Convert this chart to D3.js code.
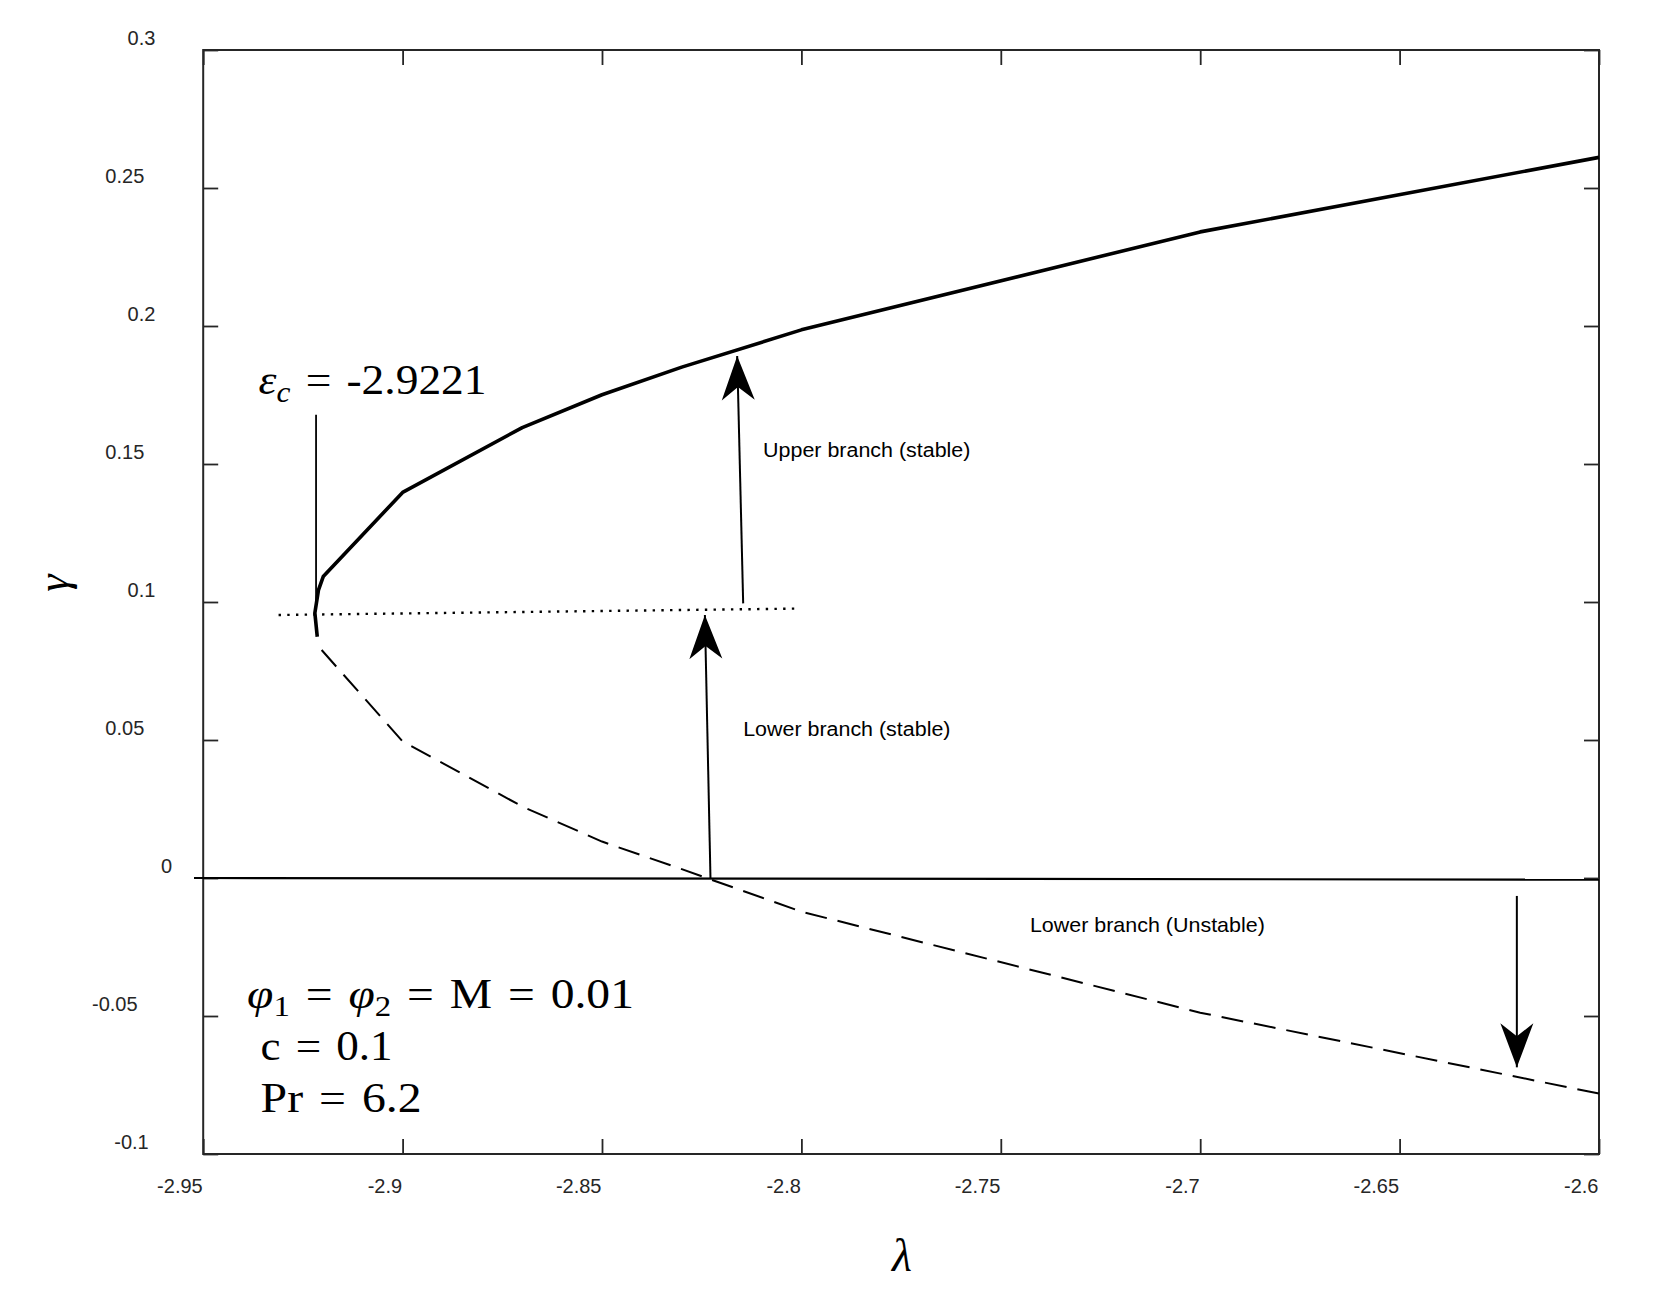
<!DOCTYPE html>
<html><head><meta charset="utf-8">
<script src="https://cdn.jsdelivr.net/npm/d3@7"></script>
<style>body{margin:0;background:#fff}</style>
</head><body><svg id="chart" width="1668" height="1308"></svg>
<script>
// ---- data ----
const xTicks = [-2.95,-2.9,-2.85,-2.8,-2.75,-2.7,-2.65,-2.6];
const xTickLabels = ["-2.95","-2.9","-2.85","-2.8","-2.75","-2.7","-2.65","-2.6"];
const yTicks = [0.3,0.25,0.2,0.15,0.1,0.05,0,-0.05,-0.1];
const yTickLabels = ["0.3","0.25","0.2","0.15","0.1","0.05","0","-0.05","-0.1"];

const upperLambda = [-2.9214,-2.9220,-2.9211,-2.9199,-2.9,-2.87,-2.85,-2.83,-2.8,-2.7,-2.6];
const upperGamma  = [0.0874,0.0960,0.1043,0.1092,0.1397,0.1632,0.1751,0.1851,0.1986,0.2341,0.2611];
const lowerLambda = [-2.9203,-2.9,-2.87,-2.85,-2.83,-2.8,-2.7,-2.6];
const lowerGamma  = [0.0826,0.0495,0.0259,0.0132,0.0032,-0.0122,-0.0488,-0.0781];
const zeroLambda = [-2.9523,-2.6];
const zeroGamma  = [0,-0.0006];
const dottedLambda = [-2.9311,-2.8014];
const dottedGamma  = [0.0953,0.0976];
const critLambda = [-2.9217,-2.9217];
const critGamma  = [0.1678,0.0971];

const arrowFromLambda = [-2.8146,-2.8228,-2.6206];
const arrowFromGamma  = [0.0995,0.0,-0.0065];
const arrowToLambda   = [-2.8161,-2.8242,-2.6206];
const arrowToGamma    = [0.1891,0.0953,-0.0686];

const annotText   = ["Upper branch (stable)","Lower branch (stable)","Lower branch (Unstable)"];
const annotLambda = [-2.8096,-2.8146,-2.7427];
const annotGamma  = [0.1524,0.0514,-0.0195];

// ---- layout ----
const svg = d3.select("#chart");
const x = d3.scaleLinear().domain([-2.95,-2.6]).range([203.2,1599]);
const y = d3.scaleLinear().domain([-0.1,0.3]).range([1154,50]);
const axisColor = "#262626";
const sans = "'Liberation Sans', Arial, Helvetica, sans-serif";
const serif = "'Liberation Serif', 'Times New Roman', serif";

function fitWidth(sel, targetW){
  const bb = sel.node().getBBox();
  const s = targetW / bb.width;
  sel.attr("transform", `translate(${bb.x},0) scale(${s},1) translate(${-bb.x},0)`);
}

// frame
svg.append("rect").attr("x",x(-2.95)).attr("y",y(0.3))
  .attr("width",x(-2.6)-x(-2.95)).attr("height",y(-0.1)-y(0.3))
  .attr("fill","none").attr("stroke",axisColor).attr("stroke-width",2);

function styleAxis(g){
  g.select(".domain").remove();
  g.selectAll(".tick line").attr("stroke",axisColor).attr("stroke-width",1.8);
}
// bottom
const gB = svg.append("g").attr("transform",`translate(0,${y(-0.1)})`)
  .call(d3.axisBottom(x).tickValues(xTicks).tickFormat((d,i)=>xTickLabels[i]).tickSizeInner(-15).tickSizeOuter(0));
styleAxis(gB);
gB.selectAll(".tick text").attr("y",39).attr("dy",0).attr("x",-1)
  .attr("text-anchor","end").attr("font-family",sans).attr("font-size",20).attr("fill",axisColor);
// top
const gT = svg.append("g").attr("transform",`translate(0,${y(0.3)})`)
  .call(d3.axisTop(x).tickValues(xTicks).tickFormat("").tickSizeInner(-15).tickSizeOuter(0));
styleAxis(gT);
// left
const gL = svg.append("g").attr("transform",`translate(${x(-2.95)},0)`)
  .call(d3.axisLeft(y).tickValues(yTicks).tickFormat((d,i)=>yTickLabels[i]).tickSizeInner(-15).tickSizeOuter(0));
styleAxis(gL);
gL.selectAll(".tick text").attr("dy",0).attr("y",-6)
  .attr("text-anchor","end").attr("font-family",sans).attr("font-size",20).attr("fill",axisColor)
  .each(function(){ const w=this.getComputedTextLength(); d3.select(this).attr("x",-20-w); });
// right
const gR = svg.append("g").attr("transform",`translate(${x(-2.6)},0)`)
  .call(d3.axisRight(y).tickValues(yTicks).tickFormat("").tickSizeInner(-15).tickSizeOuter(0));
styleAxis(gR);

// axis titles
svg.append("text").attr("x",902).attr("y",1271).attr("text-anchor","middle")
  .attr("font-family",serif).attr("font-style","italic").attr("font-size",46).text("λ");
svg.append("text").attr("transform","translate(68,583) rotate(-90)").attr("text-anchor","middle")
  .attr("font-family",serif).attr("font-style","italic").attr("font-size",44).text("γ");

const line = d3.line().x(d=>x(d[0])).y(d=>y(d[1]));
const zip = (a,b)=>a.map((v,i)=>[v,b[i]]);

// zero line
svg.append("path").attr("d",line(zip(zeroLambda,zeroGamma))).attr("fill","none")
  .attr("stroke","#000").attr("stroke-width",2.2);
// dotted
svg.append("path").attr("d",line(zip(dottedLambda,dottedGamma))).attr("fill","none")
  .attr("stroke","#000").attr("stroke-width",2.4).attr("stroke-dasharray","2.4,6.3");
// critical marker line
svg.append("path").attr("d",line(zip(critLambda,critGamma))).attr("fill","none")
  .attr("stroke","#000").attr("stroke-width",1.8);
// upper branch
svg.append("path").attr("d",line(zip(upperLambda,upperGamma))).attr("fill","none")
  .attr("stroke","#000").attr("stroke-width",3.6).attr("stroke-linejoin","round");
// lower branch dashed
svg.append("path").attr("d",line(zip(lowerLambda,lowerGamma))).attr("fill","none")
  .attr("stroke","#000").attr("stroke-width",2).attr("stroke-dasharray","22,11");

// arrows
arrowFromLambda.forEach((_,i)=>{
  const x1=x(arrowFromLambda[i]), y1=y(arrowFromGamma[i]);
  const x2=x(arrowToLambda[i]), y2=y(arrowToGamma[i]);
  svg.append("line").attr("x1",x1).attr("y1",y1).attr("x2",x2).attr("y2",y2)
    .attr("stroke","#000").attr("stroke-width",2);
  const ang = Math.atan2(y2-y1,x2-x1)*180/Math.PI;
  svg.append("path").attr("d","M0,0 L-44,-16.5 L-31,0 L-44,16.5 Z")
    .attr("transform",`translate(${x2},${y2}) rotate(${ang})`).attr("fill","#000");
});

// annotations
const annotW = [207.5,207.5,235];
annotText.forEach((t,i)=>{
  const tx = svg.append("text").attr("x",x(annotLambda[i])).attr("y",y(annotGamma[i]))
    .attr("font-family",sans).attr("font-size",20).attr("fill","#000").text(t);
  fitWidth(tx, annotW[i]);
});

// math labels: parts of type it (italic), sub (subscript), eq (equals sign with padding)
function mathText(lam, gam, parts, targetW){
  const t = svg.append("text").attr("x",x(lam)).attr("y",y(gam))
    .attr("font-family",serif).attr("font-size",42).attr("fill","#000");
  let lifted = 0, padNext = 0;
  parts.forEach(p=>{
    const s = t.append("tspan");
    let dy = 0;
    if(p.sub){ s.attr("font-size",29); dy = 8 - lifted; lifted = 8; }
    else if(lifted){ dy = -lifted; lifted = 0; }
    if(dy) s.attr("dy",dy);
    if(p.it) s.attr("font-style","italic");
    if(p.eq){ s.text("=").attr("dx",14); padNext = 14; }
    else { s.text(p.t); if(padNext){ s.attr("dx",padNext); padNext = 0; } }
  });
  fitWidth(t, targetW);
}
mathText(-2.9361, 0.1754, [{t:"ε",it:1},{t:"c",it:1,sub:1},{eq:1},{t:"-2.9221"}], 228);
mathText(-2.9390, -0.0471, [{t:"φ",it:1},{t:"1",sub:1},{eq:1},{t:"φ",it:1},{t:"2",sub:1},{eq:1},{t:"M"},{eq:1},{t:"0.01"}], 387);
mathText(-2.9356, -0.0659, [{t:"c"},{eq:1},{t:"0.1"}], 132);
mathText(-2.9356, -0.0848, [{t:"Pr"},{eq:1},{t:"6.2"}], 161);
</script>
</body></html>
